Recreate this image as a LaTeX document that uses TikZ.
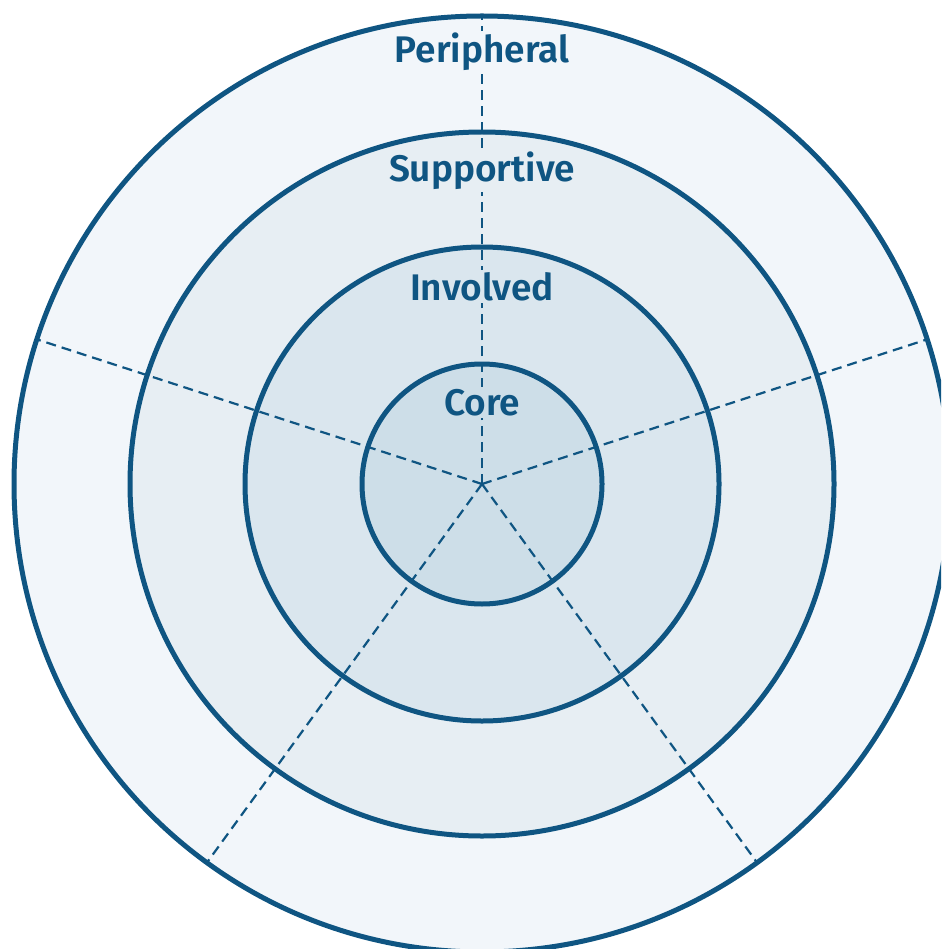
\documentclass[tikz,border=0pt]{standalone}
\usepackage{fontspec}
\setmainfont{Fira Sans SemiBold}
\usetikzlibrary{calc}
\begin{document}
\definecolor{ink}{HTML}{0F5582}
\definecolor{ringA}{HTML}{F2F6FA}
\definecolor{ringB}{HTML}{E7EEF3}
\definecolor{ringC}{HTML}{DAE6EE}
\definecolor{ringD}{HTML}{CDDEE8}
\begin{tikzpicture}[x=1pt,y=-1pt,
  ring/.style={draw=ink,line width=5pt},
  spoke/.style={draw=ink,line width=2.2pt,dash pattern=on 10pt off 6pt},
  label/.style={text=ink,font=\fontsize{37}{40}\selectfont,anchor=base,inner sep=2pt}]
  \useasboundingbox (0,0) rectangle (941,949);
  \clip (0,0) rectangle (941,949);
  \coordinate (c) at (482,484);
  % filled rings, outermost first
  \fill[ringA] (c) circle[radius=468];
  \fill[ringB] (c) circle[radius=352];
  \fill[ringC] (c) circle[radius=237];
  \fill[ringD] (c) circle[radius=120];
  % five dashed spokes from the centre (y axis points down, so angles are negated)
  \foreach \a [count=\i] in {-90,-18,-162,-234,-306}
    \coordinate (s\i) at ($(c)+(\a:468)$);
  \foreach \i in {1,...,5}
    \draw[spoke] (c) -- (s\i);
  % ring outlines
  \draw[ring] (c) circle[radius=468];
  \draw[ring] (c) circle[radius=352];
  \draw[ring] (c) circle[radius=237];
  \draw[ring] (c) circle[radius=120];
  % ring labels
  \node[label,fill=ringA] (peri) at (482,63) {Peripheral};
  \node[label,fill=ringB] (supp) at (482,182) {Supportive};
  \node[label,fill=ringC] (invo) at (482,300) {Involved};
  \node[label,fill=ringD] (core) at (482,415) {Core};
\end{tikzpicture}
\end{document}
